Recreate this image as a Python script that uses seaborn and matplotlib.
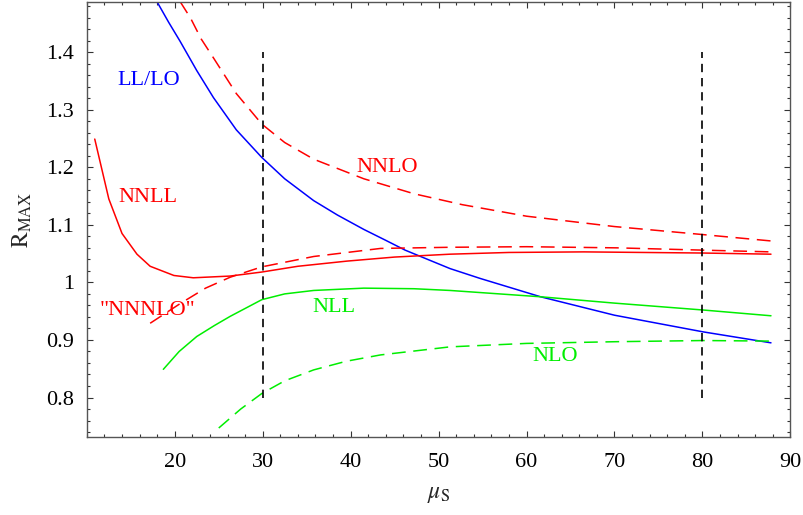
import matplotlib
matplotlib.use("Agg")
import matplotlib.pyplot as plt
import seaborn as sns
import pandas as pd
from matplotlib.ticker import MultipleLocator

# ---- data ----
ll_lo_x = [18.0, 19.3, 20.6, 22.5, 24.4, 27.0, 29.9, 32.5, 35.8, 38.5, 41.5, 44.0, 46.2, 51.3, 54.7, 61.6, 70.0, 80.1, 87.8]
ll_lo_y = [1.487, 1.452, 1.419, 1.368, 1.321, 1.265, 1.217, 1.180, 1.142, 1.117, 1.092, 1.073, 1.056, 1.024, 1.007, 0.975, 0.943, 0.914, 0.895]

nnlo_x = [20.6, 21.8, 23.0, 24.4, 27.0, 29.9, 32.5, 35.8, 41.5, 47.2, 52.7, 60.0, 70.0, 80.1, 87.8]
nnlo_y = [1.488, 1.459, 1.423, 1.390, 1.328, 1.275, 1.243, 1.214, 1.180, 1.154, 1.135, 1.115, 1.097, 1.083, 1.072]

nnnlo_x = [17.2, 20.6, 23.5, 26.3, 29.9, 35.8, 43.4, 51.3, 60.0, 70.3, 80.1, 87.8]
nnnlo_y = [0.929, 0.963, 0.990, 1.009, 1.027, 1.045, 1.059, 1.061, 1.062, 1.060, 1.056, 1.053]

nnll_x = [10.9, 12.5, 14.0, 15.7, 17.2, 19.9, 22.1, 26.3, 29.9, 34.0, 39.6, 45.0, 51.3, 58.0, 66.5, 80.1, 87.8]
nnll_y = [1.249, 1.145, 1.085, 1.049, 1.028, 1.012, 1.008, 1.011, 1.018, 1.028, 1.037, 1.044, 1.049, 1.052, 1.053, 1.051, 1.049]

nll_x = [18.7, 20.5, 22.5, 24.5, 26.3, 29.9, 32.5, 35.8, 41.5, 47.2, 51.3, 61.6, 70.0, 80.1, 87.8]
nll_y = [0.849, 0.880, 0.906, 0.925, 0.941, 0.970, 0.980, 0.986, 0.990, 0.989, 0.986, 0.975, 0.964, 0.952, 0.942]

nlo_x = [25.0, 27.5, 29.9, 32.5, 35.8, 39.5, 43.4, 51.3, 60.0, 70.3, 80.1, 87.8]
nlo_y = [0.747, 0.780, 0.807, 0.829, 0.848, 0.863, 0.874, 0.888, 0.894, 0.897, 0.899, 0.898]

vline_x = [30, 80]
vline_y = [0.8, 1.4]

labels = ["LL/LO", "NNLL", "\"NNNLO\"", "NNLO", "NLL", "NLO"]
label_x = [17.0, 16.9, 16.9, 44.2, 38.1, 63.3]
label_y = [1.350, 1.147, 0.952, 1.200, 0.957, 0.871]
label_c = ["#0000ff", "#ff0000", "#ff0000", "#ff0000", "#00ee00", "#00ee00"]

sns.set_theme(style="ticks")
plt.rcParams["font.family"] = ["Liberation Serif", "DejaVu Serif"]
plt.rcParams["mathtext.fontset"] = "stix"

fig = plt.figure(figsize=(8.04, 5.15), dpi=100)
ax = fig.add_axes([0.108, 0.151, 0.875, 0.845])

BLUE, RED, GREEN = "#0000ff", "#ff0000", "#00ee00"

def draw(x, y, color, dashes=None, lw=1.1):
    df = pd.DataFrame({"x": x, "y": y})
    sns.lineplot(data=df, x="x", y="y", color=color, lw=lw, ax=ax,
                 sort=False, estimator=None, errorbar=None)
    if dashes is not None:
        ax.lines[-1].set_dashes(dashes)

draw(ll_lo_x, ll_lo_y, BLUE)
draw(nnlo_x, nnlo_y, RED, (9, 5))
draw(nnnlo_x, nnnlo_y, RED, (9, 5))
draw(nnll_x, nnll_y, RED)
draw(nll_x, nll_y, GREEN)
draw(nlo_x, nlo_y, GREEN, (9, 5))
for vx in vline_x:
    draw([vx, vx], vline_y, "black", (5, 3.5), lw=1.2)

for t, x, y, c in zip(labels, label_x, label_y, label_c):
    ax.text(x, y, t, color=c, fontsize=16, ha="center", va="center")

ax.set_xlim(10, 90)
ax.set_ylim(0.731, 1.487)
ax.xaxis.set_minor_locator(MultipleLocator(2))
ax.yaxis.set_minor_locator(MultipleLocator(0.02))
ax.set_xticks([20, 30, 40, 50, 60, 70, 80, 90])
ax.set_xticklabels(["20", "30", "40", "50", "60", "70", "80", "90"])
ax.set_yticks([0.8, 0.9, 1.0, 1.1, 1.2, 1.3, 1.4])
ax.set_yticklabels(["0.8", "0.9", "1", "1.1", "1.2", "1.3", "1.4"])
ax.tick_params(which="both", direction="in", top=True, right=True, colors="#333333",
               labelcolor="black", labelsize=16, width=0.8)
ax.tick_params(axis="x", which="major", length=4, pad=11)
ax.tick_params(axis="y", which="major", length=4, pad=9)
ax.tick_params(which="minor", length=2.5)
for s in ax.spines.values():
    s.set_color("#555555")
    s.set_linewidth(1.0)

ax.set_xlabel(r"$\mu_{\rm S}$", fontsize=17, labelpad=9)
ax.set_ylabel(r"$\rm R_{MAX}$", fontsize=17, labelpad=9)

fig.savefig("out.png", dpi=100)
